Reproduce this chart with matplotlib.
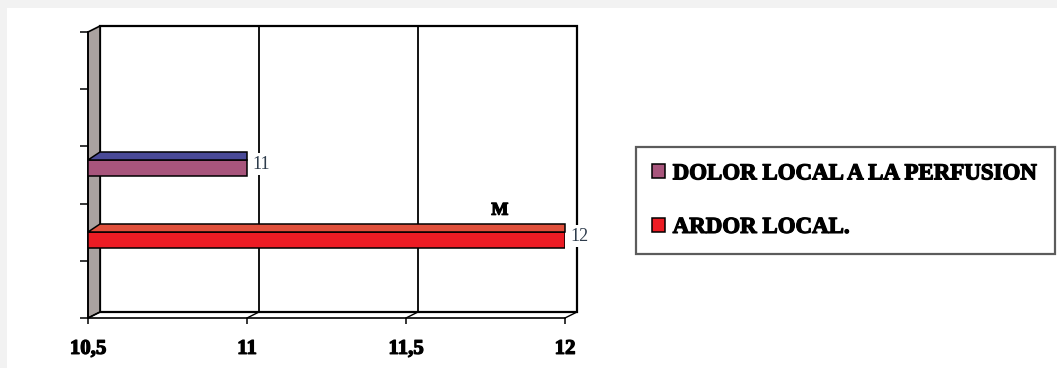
import matplotlib.pyplot as plt
import matplotlib.patheffects as pe
from matplotlib.patches import Polygon, Rectangle

# series, bottom to top
categorias = ['ARDOR LOCAL.', 'DOLOR LOCAL A LA PERFUSION']
valores = [12, 11]
colores_frente = ['#ec1c24', '#a8557c']
colores_tapa = ['#e0503c', '#4a4a98']
nota = 'M'

x_ticks = [10.5, 11, 11.5, 12]
x_labels = ['10,5', '11', '11,5', '12']
x_min, x_max = 10.5, 12
y_max = 5

# heavier look for the bold serif texts
grueso = [pe.withStroke(linewidth=0.9, foreground='black')]

W, H = 1057, 368
fig = plt.figure(figsize=(W / 100, H / 100), dpi=100, facecolor='#f2f2f2')
fig.patches.append(Rectangle((7 / W, 0), 1, 1 - 8 / H, transform=fig.transFigure,
                             facecolor='white', edgecolor='none', zorder=-10))

# front plane of the chart in pixels
px_l, px_r, px_b, px_t = 88, 565, 318, 32
ax = fig.add_axes([px_l / W, 1 - px_b / H, (px_r - px_l) / W, (px_b - px_t) / H])
ax.set_xlim(x_min, x_max)
ax.set_ylim(0, y_max)
ax.set_facecolor('none')

# depth offset of the back wall, in data units
sx = (x_max - x_min) / (px_r - px_l)
sy = y_max / (px_b - px_t)
dx, dy = 12 * sx, 6 * sy

# back wall
ax.add_patch(Rectangle((x_min + dx, dy), x_max - x_min, y_max, facecolor='white',
                       edgecolor='black', lw=1.6, clip_on=False, zorder=1))
for xv in x_ticks[1:-1]:
    ax.plot([xv + dx, xv + dx], [dy, y_max + dy], color='black', lw=1.3,
            clip_on=False, zorder=1.5)
# left wall
ax.add_patch(Polygon([(x_min, 0), (x_min + dx, dy), (x_min + dx, y_max + dy), (x_min, y_max)],
                     closed=True, facecolor='#aaa2a0', edgecolor='black', lw=1.2,
                     clip_on=False, zorder=2))
# floor edges
for xv in x_ticks:
    ax.plot([xv, xv + dx], [0, dy], color='black', lw=1.0, clip_on=False, zorder=2)

# bars: front face plus a chamfered top face
alto = 15.5 * sy
tapa = 8 * sy
posiciones = [1.36, 2.62]
barras = []
for yc, v, cf, ct, cat in zip(posiciones, valores, colores_frente, colores_tapa, categorias):
    b = ax.barh(yc, v - x_min, height=alto, left=x_min, color=cf, edgecolor='black',
                lw=1.1, zorder=4, label=cat)
    barras.append(b)
    y_top = yc + alto / 2
    ax.add_patch(Polygon([(x_min, y_top), (v, y_top), (v, y_top + tapa),
                          (x_min + dx, y_top + tapa)], closed=True, facecolor=ct,
                         edgecolor='black', lw=1.1, clip_on=False, zorder=4))
    ax.text(v + 5 * sx, yc + tapa / 2, str(v), fontsize=13, family='Liberation Serif',
            color='#2e3c4c', va='center', ha='left', zorder=5,
            bbox=dict(facecolor='white', edgecolor='none', pad=2))

ax.text(11.795, posiciones[0] + alto / 2 + tapa + 0.1, nota, fontsize=13,
        family='Liberation Serif', fontweight='bold', ha='center', va='bottom', zorder=5,
        path_effects=grueso)

# front axes
for s in ['top', 'right']:
    ax.spines[s].set_visible(False)
ax.spines['left'].set_linewidth(1.2)
ax.spines['bottom'].set_linewidth(1.2)
ax.spines['left'].set_zorder(3)
ax.spines['bottom'].set_zorder(3)
ax.set_xticks(x_ticks)
ax.set_xticklabels(x_labels, family='Liberation Serif', fontweight='bold', fontsize=15)
for t in ax.get_xticklabels():
    t.set_path_effects(grueso)
ax.set_yticks(range(y_max + 1))
ax.set_yticklabels([])
ax.tick_params(axis='x', direction='out', length=4, width=1.1, pad=11)
ax.tick_params(axis='y', direction='out', length=6, width=1.1)

leg = ax.legend(handles=barras[::-1], loc='upper left',
                bbox_to_anchor=(636 / W, 1 - 151 / H, 419 / W, 0.01),
                bbox_transform=fig.transFigure, mode='expand', frameon=True,
                fancybox=False, borderaxespad=0, borderpad=0.7, labelspacing=1.42,
                handlelength=0.55, handleheight=0.55, handletextpad=0.35,
                prop={'family': 'Liberation Serif', 'weight': 'bold', 'size': 16.5})
leg.get_frame().set_edgecolor('#333333')
leg.get_frame().set_linewidth(1.6)
for t in leg.get_texts():
    t.set_path_effects(grueso)

fig.savefig('out.png', dpi=100)
